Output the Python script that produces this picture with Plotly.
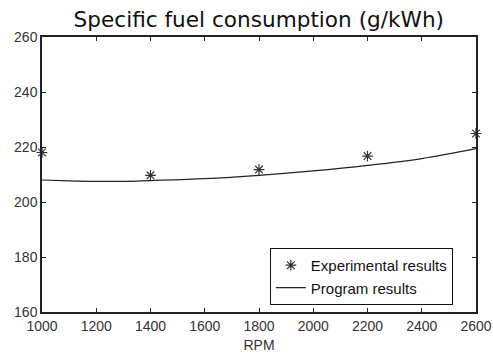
import plotly.graph_objects as go

rpm_exp = [1000, 1400, 1800, 2200, 2600]
sfc_exp = [218.0, 209.7, 211.8, 216.7, 224.9]

rpm_prog = [1000, 1100, 1200, 1300, 1400, 1600, 1800, 2000, 2200, 2400, 2600]
sfc_prog = [208.0, 207.7, 207.5, 207.5, 207.8, 208.5, 209.7, 211.3, 213.3, 215.8, 219.4]

x_ticks = [1000, 1200, 1400, 1600, 1800, 2000, 2200, 2400, 2600]
y_ticks = [160, 180, 200, 220, 240, 260]

fig = go.Figure()
fig.add_trace(go.Scatter(
    x=rpm_exp, y=sfc_exp, mode="markers", name="Experimental results",
    marker=dict(symbol="asterisk-open", size=9, color="#333333",
                line=dict(color="#333333", width=1.2)),
    cliponaxis=False,
))
fig.add_trace(go.Scatter(
    x=rpm_prog, y=sfc_prog, mode="lines", name="Program results",
    line=dict(color="#222222", width=1.2, shape="spline"),
))

tick_font = dict(family="Liberation Sans", size=14, color="#333333")
axis_common = dict(
    showgrid=False, zeroline=False, showline=True, linecolor="#222222", linewidth=1.5,
    mirror="ticks", ticks="inside", ticklen=4, tickcolor="#222222", tickwidth=1,
    tickfont=tick_font,
)

fig.update_layout(
    width=493, height=356,
    margin=dict(l=42, r=17, t=37, b=44, autoexpand=False),
    paper_bgcolor="white", plot_bgcolor="white",
    title=dict(text="Specific fuel consumption (g/kWh)", x=0.525, xanchor="center",
               y=0.945, yanchor="middle", yref="container",
               font=dict(family="DejaVu Sans", size=21.6, color="#111111")),
    xaxis=dict(range=[1000, 2600], tickvals=x_ticks, ticktext=[str(v) for v in x_ticks],
               title=dict(text="RPM", standoff=8, font=tick_font),
               **axis_common),
    yaxis=dict(range=[160, 260], tickvals=y_ticks, ticktext=[str(v) for v in y_ticks],
               **axis_common),
    legend=dict(x=0.525, y=0.233, xanchor="left", yanchor="top",
                bordercolor="#111111", borderwidth=1, bgcolor="white",
                font=dict(family="Liberation Sans", size=15, color="#111111"),
                itemwidth=30, tracegroupgap=0),
    showlegend=True,
)

fig.write_html("out.html", config={"displayModeBar": False},
               post_script="document.body.style.margin='0';")
